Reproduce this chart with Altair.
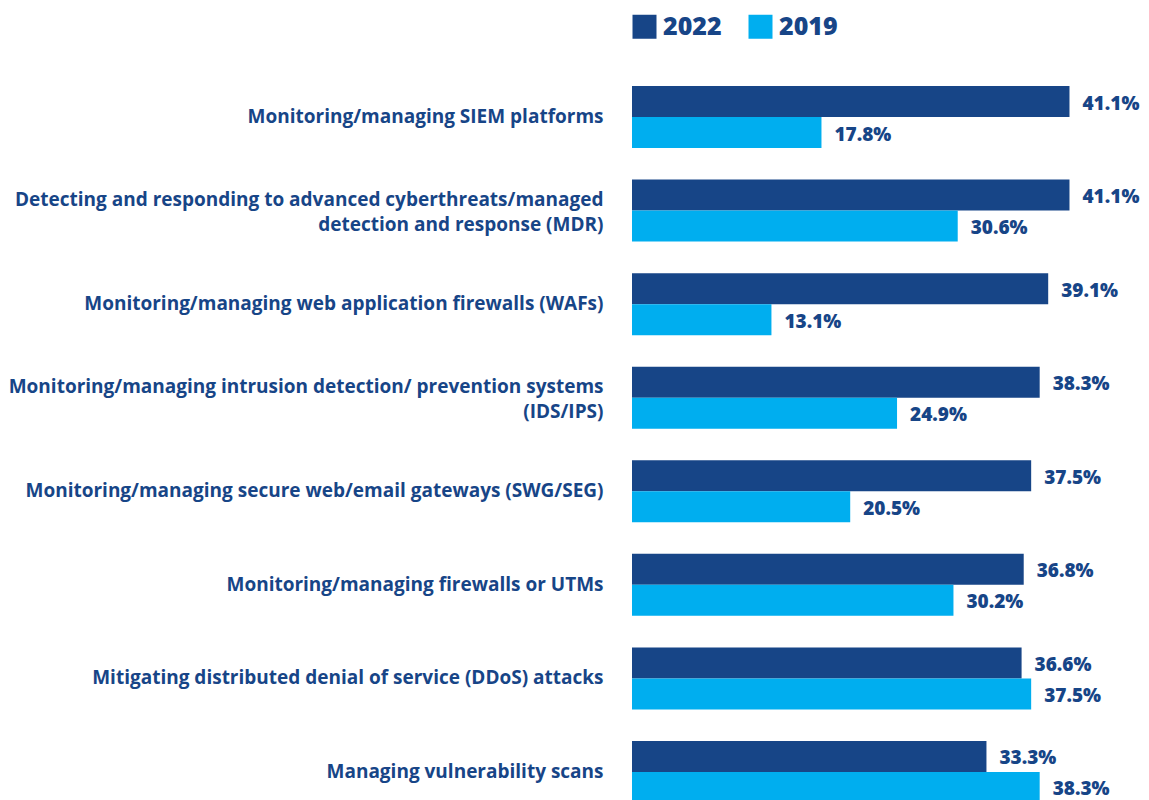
import altair as alt
import pandas as pd

categories = [
    "Monitoring/managing SIEM platforms",
    "Detecting and responding to advanced cyberthreats/managed|detection and response (MDR)",
    "Monitoring/managing web application firewalls (WAFs)",
    "Monitoring/managing intrusion detection/ prevention systems|(IDS/IPS)",
    "Monitoring/managing secure web/email gateways (SWG/SEG)",
    "Monitoring/managing firewalls or UTMs",
    "Mitigating distributed denial of service (DDoS) attacks",
    "Managing vulnerability scans",
]
years = ["2022", "2019"]
v2022 = [41.1, 41.1, 39.1, 38.3, 37.5, 36.8, 36.6, 33.3]
v2019 = [17.8, 30.6, 13.1, 24.9, 20.5, 30.2, 37.5, 38.3]
colors = ["#174587", "#00aeef"]

rows = []
for c, a, b in zip(categories, v2022, v2019):
    rows.append({"category": c, "year": "2022", "value": a, "label": f"{a:.1f}%"})
    rows.append({"category": c, "year": "2019", "value": b, "label": f"{b:.1f}%"})
df = pd.DataFrame(rows)

FONT = "Open Sans"
DARK = "#174587"

yscale = alt.Scale(domain=categories, paddingInner=0.337, paddingOuter=0)
xscale = alt.Scale(domain=[0, 45], nice=False)

base = alt.Chart(df)

yaxis = alt.Axis(
    title=None, domain=False, ticks=False, grid=False,
    labelExpr="split(datum.label, '|')",
    labelFont=FONT, labelFontWeight=700, labelFontSize=19, labelColor=DARK,
    labelLimit=0, labelPadding=29, labelLineHeight=25,
    labelOffset=alt.ExprRef(expr="indexof(datum.label, '|') >= 0 ? -11 : 0"),
)

bars = base.mark_bar().encode(
    x=alt.X("value:Q", scale=xscale, axis=None),
    y=alt.Y("category:N", scale=yscale, axis=yaxis, sort=categories),
    yOffset=alt.YOffset("year:N", sort=years),
    color=alt.Color(
        "year:N",
        sort=years,
        scale=alt.Scale(domain=years, range=colors),
        legend=alt.Legend(
            title=None,
            orient="none",
            legendX=0,
            legendY=-72,
            direction="horizontal",
            symbolType="square",
            symbolSize=576,
            symbolStrokeWidth=0,
            symbolOpacity=1,
            labelFontSize=25,
            labelFont=FONT,
            labelFontWeight=800,
            labelColor=DARK,
            labelOffset=6,
            columnPadding=26,
        ),
    ),
)

vals = base.mark_text(
    align="left", baseline="middle", dx=13, dy=2,
    font=FONT, fontWeight=800, fontSize=19, color=DARK,
).encode(
    x=alt.X("value:Q", scale=xscale),
    y=alt.Y("category:N", scale=yscale, sort=categories),
    yOffset=alt.YOffset("year:N", sort=years),
    text="label:N",
)

chart = (
    alt.layer(bars, vals)
    .properties(
        width=479,
        height=717,
        autosize="none",
        padding={"left": 624, "top": 78, "right": 30, "bottom": 0},
    )
    .configure_view(stroke=None)
)

chart.save("out.html", embed_options={"renderer": "svg", "actions": False})
